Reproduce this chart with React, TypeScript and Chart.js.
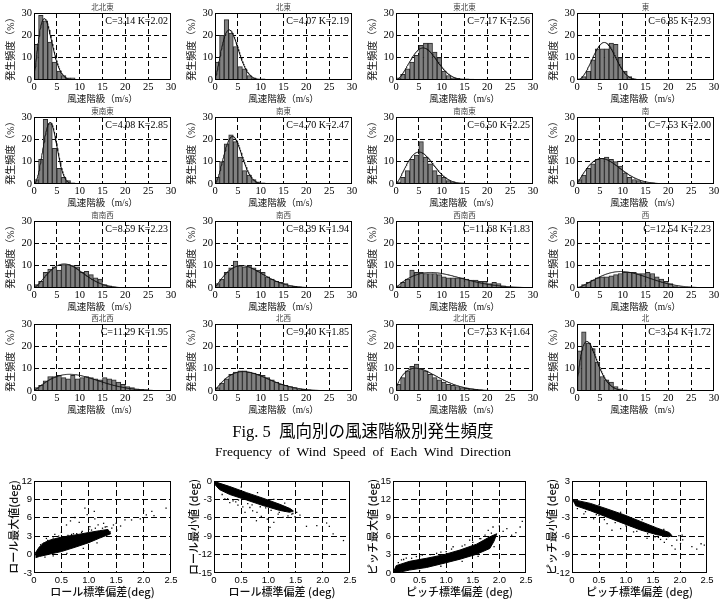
import { useEffect, useRef } from "react";
import { Chart, registerables } from "chart.js";

Chart.register(...registerables);

const SERIF = '"Liberation Serif", "Times New Roman", "Noto Sans CJK JP", serif';
const GOTHIC = '"Noto Sans CJK JP", "Liberation Sans", sans-serif';
const SANS = '"Liberation Sans", Arial, sans-serif';

/* ---------- 風向別の風速階級別発生頻度 (%), 1 m/s bins starting at 0 m/s ---------- */
const directions = [
  "北北東", "北東", "東北東", "東",
  "東南東", "南東", "南南東", "南",
  "南南西", "南西", "西南西", "西",
  "西北西", "北西", "北北西", "北",
];
const weibullC = [3.14, 4.07, 7.17, 6.85, 4.08, 4.70, 6.50, 7.53, 8.59, 8.39, 11.68, 12.54, 11.29, 9.40, 7.53, 3.54];
const weibullK = [2.02, 2.19, 2.56, 2.93, 2.85, 2.47, 2.25, 2.00, 2.23, 1.94, 1.83, 2.23, 1.95, 1.85, 1.64, 1.72];

const freqNNE = [16, 29, 26.5, 17, 8, 4, 2, 1, 1, 0.3];
const freqNE = [8, 20, 27, 21, 15, 6, 5, 2, 1, 0.5, 0.5, 0.3];
const freqENE = [1, 2.5, 5, 8, 11, 15.5, 16.5, 16.5, 12.5, 10, 4, 2, 1, 0.8, 0.5, 0.5, 0.4, 0.3];
const freqE = [0.5, 1.5, 4, 9, 14, 14, 14, 16.5, 16, 10, 4, 1.5, 0.5];
const freqESE = [2, 11, 29, 27, 16, 7, 3, 1.5, 0.5];
const freqSE = [3, 10, 18, 22, 19, 12, 6, 4, 2, 1, 0.5];
const freqSSE = [1, 3, 6, 11, 13, 19, 12, 9, 6, 4, 3, 1.5, 1, 0.5, 0.5];
const freqS = [2, 4, 7, 9, 11, 11.5, 12, 11, 10, 8, 5, 3, 2, 1.5, 1, 0.5, 0.5, 0.3];
const freqSSW = [1.5, 3, 7, 8.5, 9.5, 8, 10.5, 10.5, 10, 9.5, 7, 7.5, 6, 4.5, 4, 1.5, 1, 0.5, 0.3, 0.2];
const freqSW = [2, 4, 7, 9, 12, 10, 9.5, 10, 9, 8, 7, 5, 4, 3, 2.5, 2, 1, 0.7, 0.5, 0.3, 0.2];
const freqWSW = [1, 2.5, 4, 8, 7, 7, 6.5, 6.5, 6.5, 6, 5, 4.5, 4.5, 4.5, 4.5, 4, 3.5, 3.5, 3, 3, 2, 2.5, 2, 1, 0.5, 0.3];
const freqW = [0.5, 1.5, 2.5, 3.5, 4.5, 5, 5, 5.5, 6, 6.5, 7, 7, 7, 6.5, 6.5, 7, 6.5, 5, 4, 3, 2, 1, 0.5, 0.3];
const freqWNW = [1.5, 2.5, 4.5, 6.5, 6.5, 7, 6, 5.5, 7, 5.5, 6, 6.5, 6, 5.5, 5, 6, 5.5, 5, 4, 3, 2, 1.5, 1, 0.8, 0.6, 0.4];
const freqNW = [1.5, 3.5, 5.5, 7.5, 8.5, 9, 9, 8.5, 8, 7.5, 7, 6, 5, 4, 3, 2.5, 2, 1.5, 1, 0.7, 0.5, 0.3];
const freqNNW = [3, 6, 9, 11, 12, 10, 9, 7.5, 6, 5, 4, 3, 2.5, 2, 1.5, 1.2, 1, 0.7, 0.5, 0.3, 0.2];
const freqN = [18, 26.5, 21.5, 19, 13, 6.5, 5, 4, 2, 1, 0.5, 0.3];

const frequencies = [
  freqNNE, freqNE, freqENE, freqE,
  freqESE, freqSE, freqSSE, freqS,
  freqSSW, freqSW, freqWSW, freqW,
  freqWNW, freqNW, freqNNW, freqN,
];

/* ---------- ロール・ピッチ 最大/最小値 vs 標準偏差 (deg) ---------- */
// dense core of each cloud as an outline, plus the individually visible samples
const rollMaxCore: [number, number][] = [
  [0.02, 0.2], [0.1, 1.3], [0.2, 2.0], [0.3, 2.4], [0.5, 2.85], [0.75, 3.2], [1.0, 3.6], [1.2, 3.9], [1.35, 4.1],
  [1.4, 3.4], [1.2, 2.7], [1.0, 1.95], [0.75, 1.2], [0.5, 0.5], [0.3, 0.1], [0.1, -0.3], [0.03, -0.5],
];
const rollMaxSpread: [number, number][] = [
  [0.746, 6.05], [0.666, 5.49], [0.825, 5.27], [0.593, 4.83], [0.5, 3.62], [0.38, 3.29], [0.226, 2.63],
  [0.153, 1.74], [0.929, 7.59], [0.97, 6.5], [1.1, 7.04], [1.11, 5.82], [1.17, 4.83], [1.02, 4.56],
  [1.27, 5.1], [1.33, 4.56], [1.45, 4.83], [1.5, 5.1], [1.58, 4.66], [1.66, 5.65], [1.78, 5.65],
  [2.0, 7.15], [2.05, 6.48], [2.15, 7.03], [2.19, 6.37], [2.41, 7.59], [1.94, 5.82], [1.51, 4.0],
  [1.39, 3.72], [0.47, 2.6], [0.685, 3.29], [0.868, 3.62], [1.05, 4.0], [0.3, 2.2], [0.42, 2.4],
  [0.55, 2.9], [0.78, 3.4], [1.25, 4.3],
  [0.12, 1.6], [0.18, 1.9], [0.25, 2.3], [0.35, 2.7], [0.45, 3.0], [0.62, 3.15], [0.72, 3.4], [0.88, 3.8],
  [1.0, 4.1], [1.12, 4.3], [1.3, 4.5], [1.42, 4.3], [0.6, 0.2], [0.9, 1.0], [1.15, 1.9], [0.35, -0.2], [0.2, -0.4],
];
const rollMinCore: [number, number][] = [
  [0.01, -0.1], [0.29, -0.9], [0.6, -1.9], [0.9, -2.8], [1.21, -3.8], [1.4, -4.5], [1.46, -4.9],
  [1.39, -5.1], [1.21, -4.8], [0.9, -4.0], [0.6, -3.1], [0.29, -2.2], [0.1, -1.4], [0.02, -0.6],
];
const rollMinSpread: [number, number][] = [
  [0.29, -3.51], [0.35, -3.24], [0.44, -3.94], [0.53, -4.21], [0.66, -4.32], [0.71, -4.86], [0.79, -5.13],
  [0.87, -5.77], [0.98, -6.2], [1.03, -7.56], [1.1, -6.75], [1.18, -5.4], [1.27, -5.94], [1.36, -5.67],
  [1.49, -5.83], [1.58, -5.56], [1.7, -7.39], [1.89, -7.29], [2.07, -6.85], [2.12, -7.39], [2.19, -8.63],
  [2.38, -9.71], [0.78, -6.48], [0.57, -5.13], [1.3, -4.86], [1.52, -5.13], [1.43, -5.4], [0.2, -2.9],
  [0.4, -3.4], [0.62, -3.7], [0.95, -4.4],
  [0.15, -2.2], [0.25, -2.9], [0.45, -3.1], [0.7, -3.9], [0.85, -4.2], [1.05, -4.8], [1.2, -5.1], [1.45, -5.3],
  [0.5, -1.0], [0.8, -1.9], [1.1, -3.0], [1.3, -3.6],
];
const pitchMaxCore: [number, number][] = [
  [0, 0], [0.06, 1.2], [0.31, 1.9], [0.63, 2.4], [0.94, 2.95], [1.26, 3.75], [1.57, 4.7], [1.82, 5.9],
  [1.95, 6.4], [1.9, 5.2], [1.82, 4.0], [1.57, 3.05], [1.26, 2.25], [0.94, 1.55], [0.63, 0.9], [0.31, 0.48],
  [0.05, 0],
];
const pitchMaxSpread: [number, number][] = [
  [0.16, 2.14], [0.25, 2.41], [0.44, 2.68], [0.82, 3.21], [1.13, 4.28], [1.44, 5.36], [1.63, 5.62],
  [1.79, 6.96], [1.88, 7.5], [2.0, 7.66], [2.07, 6.8], [2.14, 7.23], [2.23, 6.16], [2.31, 6.59], [2.39, 7.5],
  [2.43, 8.41], [2.01, 5.89], [1.73, 6.16], [0.55, 2.9], [1.0, 3.5], [1.35, 4.6],
  [0.1, 1.7], [0.2, 2.2], [0.35, 2.4], [0.5, 2.75], [0.7, 3.0], [0.9, 3.4], [1.1, 3.9], [1.3, 4.4], [1.5, 5.0],
  [1.65, 5.6], [1.85, 6.5], [0.5, 0.4], [0.9, 1.1], [1.3, 1.9], [1.6, 2.7], [1.9, 4.3],
];
const pitchMinCore: [number, number][] = [
  [0, 0], [0.34, -0.65], [0.65, -1.55], [0.96, -2.5], [1.27, -3.6], [1.57, -4.65], [1.8, -5.4], [1.85, -5.9],
  [1.79, -6.1], [1.57, -5.75], [1.27, -5.0], [0.96, -3.95], [0.65, -2.9], [0.34, -1.85], [0.06, -1.0],
];
const pitchMinSpread: [number, number][] = [
  [0.22, -2.36], [0.4, -3.16], [0.65, -3.96], [0.74, -5.03], [0.9, -4.77], [1.14, -5.3], [1.39, -6.37],
  [1.64, -6.53], [1.71, -7.02], [1.85, -7.55], [1.91, -8.09], [2.01, -7.18], [2.04, -5.84], [2.22, -7.71],
  [2.31, -8.09], [2.39, -7.23], [2.45, -7.45], [1.94, -6.64], [1.54, -6.1], [0.5, -2.6], [1.1, -4.4],
  [0.1, -1.5], [0.25, -2.0], [0.45, -2.5], [0.6, -3.3], [0.8, -3.8], [1.0, -4.3], [1.2, -5.2], [1.4, -5.6],
  [1.6, -6.2], [1.75, -6.5], [0.5, -0.9], [0.9, -2.1], [1.3, -3.3], [1.7, -4.9], [2.05, -6.6], [1.98, -5.9],
];

const stdTicks = [0, 0.5, 1, 1.5, 2, 2.5];

/* ---------- helpers ---------- */
type Box = { left: number; top: number; width: number; height: number };

function weibullPercent(c: number, k: number) {
  const pts: { x: number; y: number }[] = [];
  for (let i = 0; i <= 300; i++) {
    const v = i / 10;
    const f = v === 0 ? 0 : (k / c) * Math.pow(v / c, k - 1) * Math.exp(-Math.pow(v / c, k));
    pts.push({ x: v, y: f * 100 });
  }
  return pts;
}

function interiorGrid(min: number, max: number) {
  return (ctx: any) => {
    const v = ctx.tick ? ctx.tick.value : min;
    return v > min + 1e-9 && v < max - 1e-9 ? "#000" : "rgba(0,0,0,0)";
  };
}

function framePlugin(title?: string, note?: string) {
  return {
    id: "frame",
    afterDatasetsDraw(chart: any) {
      const { ctx, chartArea: a } = chart;
      ctx.save();
      ctx.setLineDash([]);
      ctx.strokeStyle = "#000";
      ctx.lineWidth = 1;
      ctx.strokeRect(a.left + 0.5, a.top + 0.5, a.right - a.left - 1, a.bottom - a.top - 1);
      if (title) {
        ctx.fillStyle = "#444";
        ctx.font = `7.5px ${SERIF}`;
        ctx.textAlign = "center";
        ctx.textBaseline = "middle";
        ctx.fillText(title, (a.left + a.right) / 2, a.top - 5);
      }
      if (note) {
        ctx.fillStyle = "#000";
        ctx.font = `10px ${SERIF}`;
        ctx.textAlign = "right";
        ctx.textBaseline = "middle";
        ctx.fillText(note, a.right - 3, a.top + 8.5);
      }
      ctx.restore();
    },
  };
}

function histogramConfig(i: number) {
  const c = weibullC[i];
  const k = weibullK[i];
  const bars = frequencies[i].map((v, j) => ({ x: j + 0.5, y: v }));
  return {
    type: "bar",
    data: {
      datasets: [
        {
          type: "line",
          data: weibullPercent(c, k),
          borderColor: "#111",
          borderWidth: 1,
          pointRadius: 0,
          fill: false,
          order: 0,
        },
        {
          type: "bar",
          data: bars,
          backgroundColor: "#808080",
          borderColor: "#2a2a2a",
          borderWidth: 1,
          barPercentage: 1,
          categoryPercentage: 1,
          order: 1,
        },
      ],
    },
    options: {
      responsive: false,
      animation: false,
      devicePixelRatio: 1,
      layout: { padding: { top: 13, right: 10, left: 0, bottom: 0 } },
      plugins: { legend: { display: false }, tooltip: { enabled: false }, title: { display: false } },
      scales: {
        x: {
          type: "linear",
          min: 0,
          max: 30,
          offset: false,
          ticks: { stepSize: 5, autoSkip: false, maxRotation: 0, color: "#000", padding: 1, font: { family: SERIF, size: 10.5 } },
          grid: { offset: false, drawTicks: false, color: interiorGrid(0, 30), lineWidth: 1 },
          border: { display: false, dash: [5, 3] },
          title: { display: true, text: "風速階級（m/s）", color: "#111", font: { family: SERIF, size: 9.5 }, padding: { top: 0, bottom: 5.3 } },
          afterFit: (s: any) => { s.height = 30; },
        },
        y: {
          min: 0,
          max: 30,
          ticks: { stepSize: 10, color: "#000", padding: 2, font: { family: SERIF, size: 10.5 } },
          grid: { drawTicks: false, color: interiorGrid(0, 30), lineWidth: 1 },
          border: { display: false, dash: [5, 3] },
          title: { display: true, text: "発生頻度（%）", color: "#111", font: { family: SERIF, size: 10 }, padding: { top: 5, bottom: 0 } },
          afterFit: (s: any) => { s.width = 34; },
        },
      },
    },
    plugins: [framePlugin(directions[i], `C=${c.toFixed(2)} K=${k.toFixed(2)}`)],
  };
}

function scatterConfig(
  core: [number, number][],
  spread: [number, number][],
  yMin: number,
  yMax: number,
  xTitle: string,
  yTitle: string,
) {
  return {
    type: "scatter",
    data: {
      datasets: [
        {
          data: spread.map(([x, y]) => ({ x, y })),
          backgroundColor: "#000",
          borderColor: "#000",
          borderWidth: 0,
          pointRadius: 0.9,
          pointStyle: "rect",
        },
        {
          data: core.map(([x, y]) => ({ x, y })),
          showLine: true,
          fill: "shape",
          backgroundColor: "#000",
          borderColor: "#000",
          borderWidth: 1,
          pointRadius: 0,
          tension: 0,
        },
      ],
    },
    options: {
      responsive: false,
      animation: false,
      devicePixelRatio: 1,
      layout: { padding: { top: 11, right: 12, left: 0, bottom: 0 } },
      plugins: { legend: { display: false }, tooltip: { enabled: false } },
      scales: {
        x: {
          type: "linear",
          min: 0,
          max: 2.5,
          afterBuildTicks: (s: any) => { s.ticks = stdTicks.map((v) => ({ value: v })); },
          ticks: { autoSkip: false, maxRotation: 0, color: "#000", padding: 1.5, font: { family: SANS, size: 9.5 } },
          grid: { drawTicks: false, color: interiorGrid(0, 2.5), lineWidth: 1 },
          border: { display: false, dash: [6, 3] },
          title: { display: true, text: xTitle, color: "#111", font: { family: GOTHIC, size: 11, weight: "500" }, padding: { top: 0, bottom: 6.4 } },
          afterFit: (s: any) => { s.height = 32; },
        },
        y: {
          min: yMin,
          max: yMax,
          ticks: { stepSize: 3, color: "#000", padding: 2, font: { family: SANS, size: 9.5 } },
          grid: { drawTicks: false, color: interiorGrid(yMin, yMax), lineWidth: 1 },
          border: { display: false, dash: [6, 3] },
          title: { display: true, text: yTitle, color: "#111", font: { family: GOTHIC, size: 11, weight: "500" }, padding: { top: 9.4, bottom: 0 } },
          afterFit: (s: any) => { s.width = 36; },
        },
      },
    },
    plugins: [framePlugin()],
  };
}

function ChartCanvas({ box, make }: { box: Box; make: () => any }) {
  const ref = useRef<HTMLCanvasElement>(null);
  useEffect(() => {
    const chart = new Chart(ref.current as HTMLCanvasElement, make());
    return () => chart.destroy();
  }, []);
  return (
    <canvas
      ref={ref}
      width={box.width}
      height={box.height}
      style={{ position: "absolute", left: box.left, top: box.top, width: box.width, height: box.height }}
    />
  );
}

const histLefts = [34, 215, 396, 577];
const histTops = [13, 117, 221, 324];

const scatterPanels = [
  { left: 34, width: 137, core: rollMaxCore, spread: rollMaxSpread, yMin: -3, yMax: 12, xTitle: "ロール標準偏差(deg)", yTitle: "ロール最大値(deg)" },
  { left: 214, width: 136, core: rollMinCore, spread: rollMinSpread, yMin: -15, yMax: 0, xTitle: "ロール標準偏差 (deg)", yTitle: "ロール最小値 (deg)" },
  { left: 393, width: 133, core: pitchMaxCore, spread: pitchMaxSpread, yMin: 0, yMax: 15, xTitle: "ピッチ標準偏差 (deg)", yTitle: "ピッチ最大値 (deg)" },
  { left: 572, width: 135, core: pitchMinCore, spread: pitchMinSpread, yMin: -12, yMax: 3, xTitle: "ピッチ標準偏差 (deg)", yTitle: "ピッチ最小値 (deg)" },
];

export default function App() {
  return (
    <div style={{ position: "fixed", left: 0, top: 0, width: 726, height: 610, background: "#fff", overflow: "hidden" }}>
      {directions.map((_, i) => {
        const r = Math.floor(i / 4);
        const c = i % 4;
        const box = { left: histLefts[c] - 34, top: histTops[r] - 13, width: 34 + 137 + 10, height: 110 };
        return <ChartCanvas key={`h${i}`} box={box} make={() => histogramConfig(i)} />;
      })}

      <div
        style={{
          position: "absolute", left: 0, top: 422, width: 726, textAlign: "center",
          fontFamily: SERIF, fontSize: 16.5, lineHeight: "20px", color: "#000", whiteSpace: "pre",
        }}
      >
        {"Fig. 5  風向別の風速階級別発生頻度"}
      </div>
      <div
        style={{
          position: "absolute", left: 0, top: 443, width: 726, textAlign: "center",
          fontFamily: SERIF, fontSize: 13.5, lineHeight: "18px", color: "#000", whiteSpace: "pre",
        }}
      >
        {"Frequency  of  Wind  Speed  of  Each  Wind  Direction"}
      </div>

      {scatterPanels.map((p, i) => {
        const box = { left: p.left - 36, top: 470, width: 36 + p.width + 12, height: 135 };
        return (
          <ChartCanvas
            key={`s${i}`}
            box={box}
            make={() => scatterConfig(p.core, p.spread, p.yMin, p.yMax, p.xTitle, p.yTitle)}
          />
        );
      })}
    </div>
  );
}
